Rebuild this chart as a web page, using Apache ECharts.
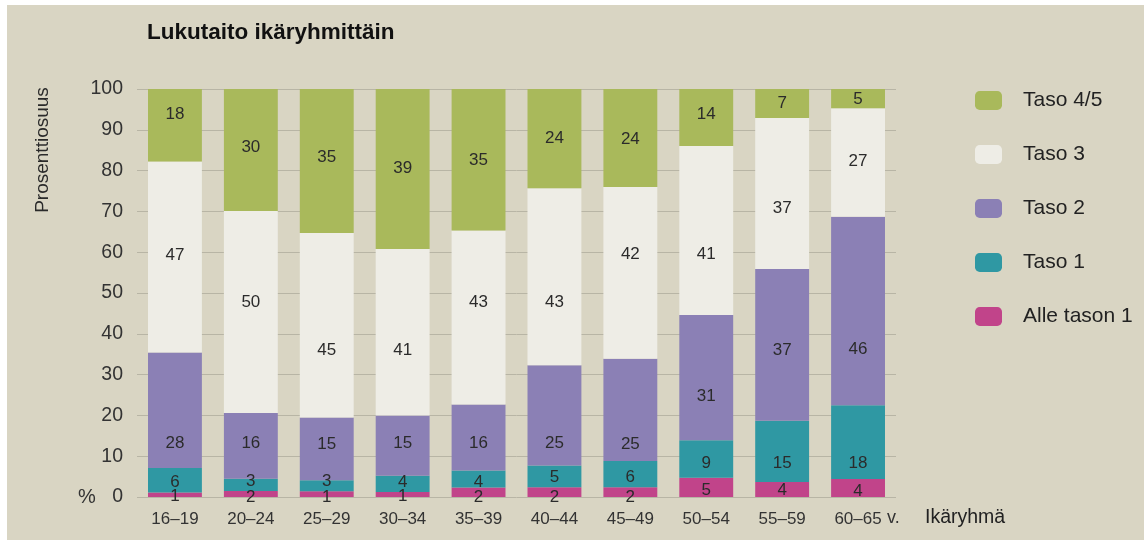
<!DOCTYPE html>
<html>
<head>
<meta charset="utf-8">
<script src="https://cdn.jsdelivr.net/npm/echarts@6/dist/echarts.min.js"></script>
<style>
html,body{margin:0;padding:0;background:#fff;}
#chart{width:1144px;height:543px;}
</style>
</head>
<body>
<div id="chart"></div>
<script>
// ---- data (segment heights, %) ----
const categories = ['16–19','20–24','25–29','30–34','35–39','40–44','45–49','50–54','55–59','60–65'];
const alleTason1 = [1.1, 1.5, 1.4, 1.2, 2.3, 2.4, 2.4, 4.7, 3.7, 4.4];
const taso1      = [6.0, 3.0, 2.7, 4.0, 4.2, 5.3, 6.4, 9.2, 15.0, 18.1];
const taso2      = [28.3, 16.1, 15.4, 14.8, 16.2, 24.6, 25.1, 30.7, 37.2, 46.2];
const taso3      = [46.8, 49.5, 45.2, 40.8, 42.6, 43.4, 42.1, 41.4, 37.0, 26.6];
const taso45     = [17.8, 29.9, 35.3, 39.2, 34.7, 24.3, 24.0, 14.0, 7.1, 4.7];
const yTicks     = [0,10,20,30,40,50,60,70,80,90,100];

// ---- label nudges (px, styling only) ----
const nudgeAlle = [2,3,3,2,5,5,5,3,1,3];
const nudgeT1   = [2,-3,-4,-2,3,1,3,4,12,21];
const nudgeT2   = [33,-2,-5,-2,6,28,34,19,5,38];
const nudgeT3   = [-2,-10,25,18,-15,26,-18,24,15,-1];
const nudgeT45  = [-11,-3,-4,-1,1,0,1,-3,0,1];

const FONT = '"Liberation Sans", Arial, Helvetica, sans-serif';

function mk(name, vals, nudges, color){
  return {
    name: name,
    type: 'bar',
    stack: 'total',
    barWidth: '71%',
    itemStyle: {color: color},
    label: {
      show: true, position: 'inside', color: '#2b2b2b', fontSize: 17, fontFamily: FONT,
      formatter: p => String(Math.round(p.value))
    },
    data: vals.map((v,i)=>({value: v, label: {offset: [0, nudges[i]]}}))
  };
}

const chart = echarts.init(document.getElementById('chart'), null, {renderer:'canvas'});
chart.setOption({
  backgroundColor: '#ffffff',
  animation: false,
  textStyle: {fontFamily: FONT},
  graphic: [
    {type:'rect', z:-10, shape:{x:7,y:5,width:1137,height:535}, style:{fill:'#d9d5c3'}},
    {type:'text', x:147, y:33, style:{text:'Lukutaito ikäryhmittäin', font:'bold 22.5px '+FONT, fill:'#111', align:'left', verticalAlign:'middle'}},
    {type:'text', x:43, y:150, rotation:Math.PI/2, style:{text:'Prosenttiosuus', font:'19px '+FONT, fill:'#2a2a2a', align:'center', verticalAlign:'middle'}},
    {type:'text', x:87, y:497, style:{text:'%', font:'20px '+FONT, fill:'#333', align:'center', verticalAlign:'middle'}},
    {type:'text', x:887, y:518, style:{text:'v.', font:'18px '+FONT, fill:'#333', align:'left', verticalAlign:'middle'}},
    {type:'text', x:925, y:518, style:{text:'Ikäryhmä', font:'19.5px '+FONT, fill:'#222', align:'left', verticalAlign:'middle'}}
  ],
  legend: {
    orient: 'vertical',
    left: 970,
    top: 85,
    itemWidth: 27,
    itemHeight: 19,
    itemGap: 33,
    textStyle: {fontSize: 21, lineHeight: 19, color: '#222', fontFamily: FONT, padding:[0,0,0,16]},
    data: ['Taso 4/5','Taso 3','Taso 2','Taso 1','Alle tason 1']
  },
  grid: {left: 137, right: 1144-896, top: 89, bottom: 543-497, containLabel: false},
  xAxis: {
    type: 'category',
    data: categories,
    axisLine: {show: false},
    axisTick: {show: false},
    axisLabel: {fontSize: 17, color: '#333', margin: 14, fontFamily: FONT}
  },
  yAxis: {
    type: 'value',
    min: yTicks[0],
    max: yTicks[yTicks.length-1],
    interval: yTicks[1]-yTicks[0],
    axisLine: {show: false},
    axisTick: {show: false},
    axisLabel: {fontSize: 19.5, color: '#333', margin: 14, fontFamily: FONT},
    splitLine: {lineStyle: {color: '#b8b5a5', width: 1}}
  },
  series: [
    mk('Alle tason 1', alleTason1, nudgeAlle, '#c1448a'),
    mk('Taso 1', taso1, nudgeT1, '#2f98a3'),
    mk('Taso 2', taso2, nudgeT2, '#8b80b5'),
    mk('Taso 3', taso3, nudgeT3, '#eeede6'),
    mk('Taso 4/5', taso45, nudgeT45, '#a9b95b')
  ]
});
</script>
</body>
</html>
